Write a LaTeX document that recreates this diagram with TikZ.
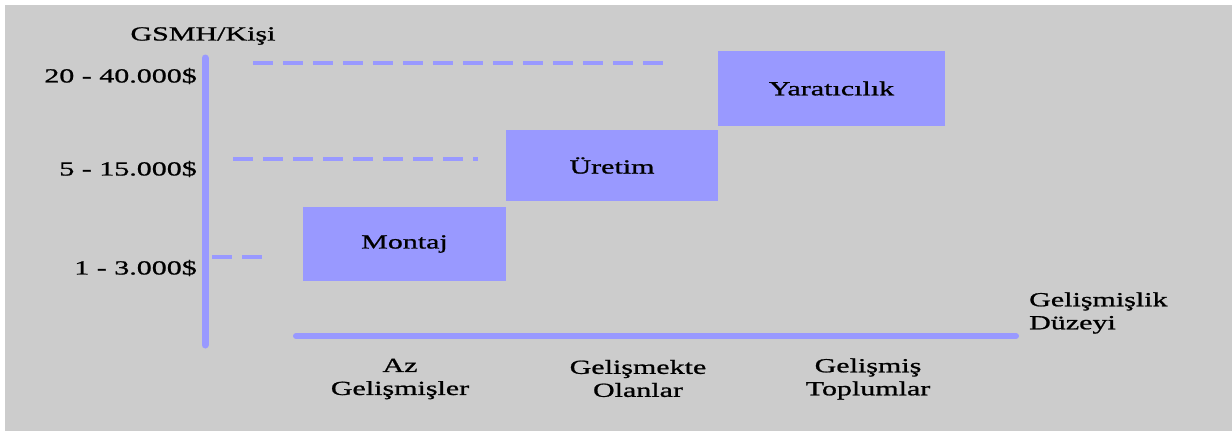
\documentclass[tikz,border=0pt]{standalone}
\usepackage{fontspec}
\setmainfont{Liberation Serif}[FakeStretch=1.5,FakeBold=1]
\definecolor{lilac}{HTML}{9999FF}
\definecolor{panel}{HTML}{CCCCCC}

\begin{document}
\begin{tikzpicture}[x=1pt,y=-1pt,
    stage/.style={fill=lilac,inner sep=0pt,font=\fontsize{20}{23}\selectfont},
    axis/.style={draw=lilac,line width=7pt,line cap=round},
    guide/.style={draw=lilac,line width=4pt,dash pattern=on 20pt off 10pt},
    lbl/.style={font=\fontsize{20}{23}\selectfont,align=center,inner sep=0pt}]
    \useasboundingbox (0,0) rectangle (1232,431);
    \fill[panel] (5,5) rectangle (1232,431);
    % axes
    \coordinate (ytop) at (205,58);
    \coordinate (ybot) at (205,345);
    \coordinate (xleft) at (296,336);
    \coordinate (xright) at (1016,336);
    \draw[axis] (ytop) -- (ybot);
    \draw[axis,line width=6pt] (xleft) -- (xright);
    % stages
    \node[stage,minimum width=203pt,minimum height=74pt] (montaj) at (404.5,244) {Montaj};
    \node[stage,minimum width=212pt,minimum height=71pt] (uretim) at (612,165.5) {Üretim};
    \node[stage,minimum width=227pt,minimum height=75pt] (yarat) at (831.5,88.5) {Yaratıcılık};
    % guide lines
    \coordinate (g1a) at (212,257);
    \coordinate (g1b) at (262,257);
    \coordinate (g2a) at (233,159);
    \coordinate (g2b) at (478,159);
    \coordinate (g3a) at (253,63);
    \coordinate (g3b) at (663,63);
    \draw[guide] (g1a) -- (g1b);
    \draw[guide] (g2a) -- (g2b);
    \draw[guide] (g3a) -- (g3b);
    % labels
    \node[lbl] (yname) at (203,36) {GSMH/Kişi};
    \node[lbl,anchor=east] (v3) at (197,76) {20 - 40.000\$};
    \node[lbl,anchor=east] (v2) at (197,169) {5 - 15.000\$};
    \node[lbl,anchor=east] (v1) at (197,268) {1 - 3.000\$};
    \node[lbl] (az) at (400,379) {Az\\Gelişmişler};
    \node[lbl] (olan) at (638,378.5) {Gelişmekte\\Olanlar};
    \node[lbl] (top) at (868,379) {Gelişmiş\\Toplumlar};
    \node[lbl,anchor=west,align=left] (xname) at (1029,313) {Gelişmişlik\\Düzeyi};
\end{tikzpicture}
\end{document}
